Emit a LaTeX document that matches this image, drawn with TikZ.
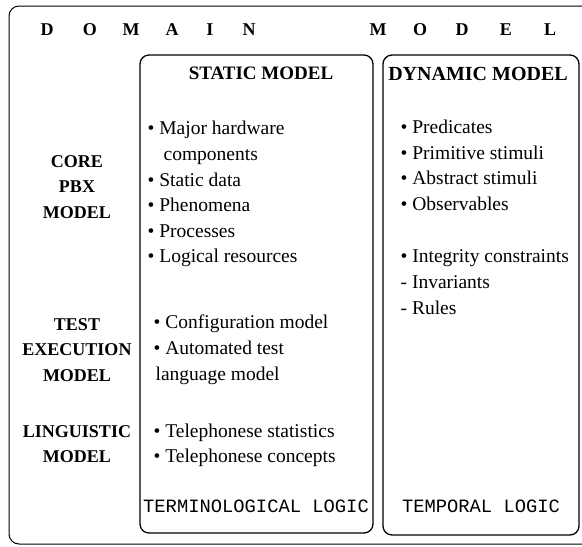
\documentclass[tikz,border=0pt]{standalone}
\usepackage{fontspec}
\setmainfont{Liberation Serif}
\setmonofont{Liberation Mono}
\begin{document}
\begin{tikzpicture}[x=1pt,y=-1pt,line width=1.3pt,
  every node/.style={inner sep=0pt},
  title/.style={anchor=base,font=\fontsize{18}{18}\selectfont\bfseries},
  rowlabel/.style={align=center,font=\fontsize{18}{25.5}\selectfont\bfseries},
  head/.style={anchor=base,font=\fontsize{19}{19}\selectfont\bfseries},
  item/.style={anchor=base west,font=\fontsize{19.5}{19.5}\selectfont},
  logic/.style={anchor=base,font=\fontsize{18.8}{18.8}\selectfont\ttfamily}]
  \path[use as bounding box] (0,0) rectangle (582,547);
  % frames
  \draw[line width=1pt,rounded corners=10pt] (582,6) -- (9,6) -- (9,544) -- (582,544);
  \draw[rounded corners=9pt] (140,55) rectangle (373,533);
  \draw[rounded corners=9pt] (383,55) rectangle (579,535);
  % title
  \foreach \ch/\xx [count=\i] in {D/47,O/90,M/131,A/172,I/210,N/249,M/378,O/420,D/462,E/506,L/550}
    \node[title] (t\i) at (\xx,35) {\ch};
  % rows
  \node[rowlabel] (core) at (77,187) {CORE\\PBX\\MODEL};
  \node[rowlabel] (test) at (77,350) {TEST\\EXECUTION\\MODEL};
  \node[rowlabel] (ling) at (77,444) {LINGUISTIC\\MODEL};
  % static model
  \node[head] (static) at (261,79) {STATIC MODEL};
  \node[item] (s1) at (147,134) {• Major hardware};
  \node[item] (s2) at (163,160) {components};
  \node[item] (s3) at (147,186) {• Static data};
  \node[item] (s4) at (147,211) {• Phenomena};
  \node[item] (s5) at (147,237) {• Processes};
  \node[item] (s6) at (147,262) {• Logical resources};
  \node[item] (s7) at (153,328) {• Configuration model};
  \node[item] (s8) at (153,354) {• Automated test};
  \node[item] (s9) at (155,380) {language model};
  \node[item] (s10) at (153,437) {• Telephonese statistics};
  \node[item] (s11) at (153,462) {• Telephonese concepts};
  \node[logic] (term) at (256,512) {TERMINOLOGICAL LOGIC};
  % dynamic model
  \node[head,font=\fontsize{20}{20}\selectfont\bfseries] (dynamic) at (478,80) {DYNAMIC MODEL};
  \node[item] (d1) at (400,133) {• Predicates};
  \node[item] (d2) at (400,159) {• Primitive stimuli};
  \node[item] (d3) at (400,184) {• Abstract stimuli};
  \node[item] (d4) at (400,210) {• Observables};
  \node[item] (d5) at (400,262) {• Integrity constraints};
  \node[item] (d6) at (400,288) {- Invariants};
  \node[item] (d7) at (400,314) {- Rules};
  \node[logic] (temp) at (481,512) {TEMPORAL LOGIC};
\end{tikzpicture}
\end{document}
